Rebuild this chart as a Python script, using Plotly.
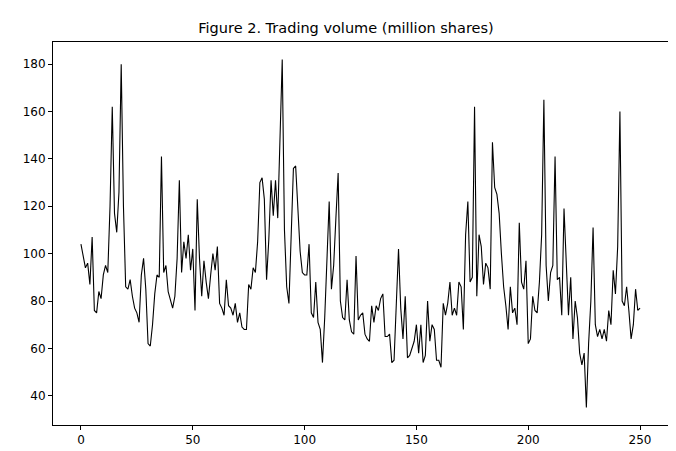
import plotly.graph_objects as go

# trading volume, million shares
volume = [
    104, 98, 94, 96, 87, 107, 76, 75, 84, 81, 91, 95, 92, 120, 162, 117, 109, 126, 180, 120,
    86, 85, 89, 82, 77, 75, 71, 91, 98, 85, 62, 61, 70, 83, 91, 90, 141, 92, 95, 84,
    80, 77, 82, 98, 131, 92, 105, 98, 108, 93, 102, 76, 123, 98, 82, 97, 88, 81, 91, 100,
    93, 103, 79, 77, 74, 89, 78, 77, 74, 79, 71, 75, 69, 68, 68, 87, 85, 94, 92, 105,
    130, 132, 123, 89, 106, 131, 116, 131, 115, 145, 182, 110, 86, 79, 112, 136, 137, 118, 101, 92,
    91, 91, 104, 75, 73, 88, 71, 68, 54, 73, 100, 122, 85, 95, 115, 134, 80, 73, 72, 89,
    72, 67, 66, 99, 72, 74, 75, 66, 64, 63, 78, 71, 78, 76, 81, 83, 65, 65, 66, 54,
    55, 80, 102, 77, 64, 82, 56, 57, 60, 63, 70, 58, 70, 54, 57, 80, 63, 70, 68, 55,
    55, 52, 79, 74, 79, 88, 74, 77, 74, 88, 86, 68, 108, 122, 88, 90, 162, 82, 108, 103,
    87, 96, 94, 85, 147, 128, 125, 117, 100, 86, 78, 68, 86, 75, 77, 70, 113, 88, 85, 97,
    62, 64, 82, 76, 75, 88, 108, 165, 95, 80, 92, 95, 141, 89, 90, 74, 119, 95, 74, 90,
    64, 80, 73, 58, 53, 58, 35, 62, 80, 111, 70, 65, 68, 64, 68, 63, 76, 70, 93, 83,
    103, 160, 80, 78, 86, 76, 64, 70, 85, 76, 77,
]
days = list(range(len(volume)))

x_ticks = [0, 50, 100, 150, 200, 250]
y_ticks = [40, 60, 80, 100, 120, 140, 160, 180]

fig = go.Figure(go.Scatter(
    x=days, y=volume, mode="lines",
    line=dict(color="black", width=1.1),
))

axis_style = dict(
    showgrid=False, zeroline=False, showline=True, mirror=True,
    linecolor="black", linewidth=1, ticks="outside", ticklen=4,
    tickcolor="black", tickfont=dict(size=12, color="black"),
    automargin=False,
)
fig.update_xaxes(range=[-12.5, 262.5], tickvals=x_ticks, **axis_style)
fig.update_yaxes(range=[27.65, 189.35], tickvals=y_ticks, **axis_style)

fig.update_layout(
    width=676, height=451,
    plot_bgcolor="white", paper_bgcolor="white",
    font=dict(family="DejaVu Sans", color="black"),
    margin=dict(l=45, r=16, t=34, b=34, autoexpand=False),
    showlegend=False,
    title=dict(text="Figure 2. Trading volume (million shares)",
               x=0.5, xanchor="center", y=0.955, yanchor="middle",
               font=dict(size=14.5)),
)

fig.write_html("out.html")
